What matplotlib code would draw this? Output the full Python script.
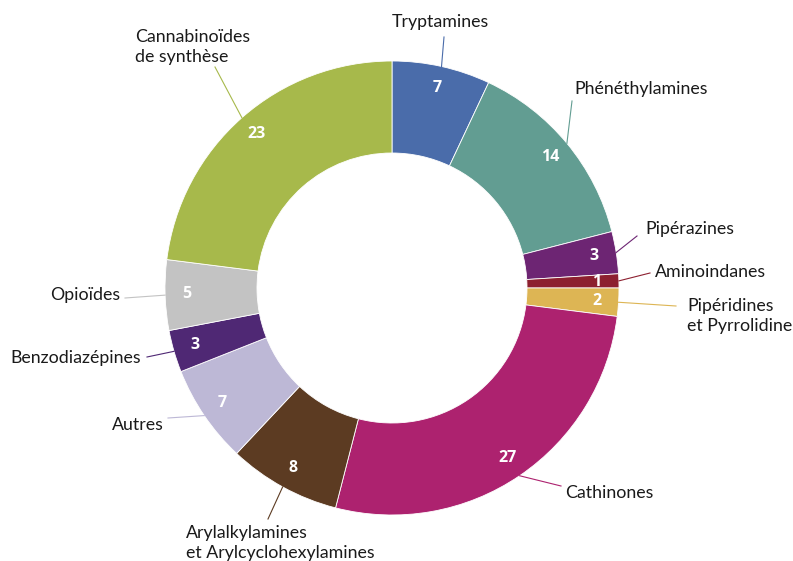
import numpy as np
import matplotlib
matplotlib.use("Agg")
import matplotlib.pyplot as plt

# data
labels = ["Tryptamines", "Phénéthylamines", "Pipérazines", "Aminoindanes",
          "Pipéridines\net Pyrrolidine", "Cathinones",
          "Arylalkylamines\net Arylcyclohexylamines", "Autres",
          "Benzodiazépines", "Opioïdes", "Cannabinoïdes\nde synthèse"]
values = [7, 14, 3, 1, 2, 27, 8, 7, 3, 5, 23]
colors = ["#4a6caa", "#629d92", "#6d2573", "#8d2030", "#ddb554", "#ad226f",
          "#5c3b22", "#bdb8d6", "#4f2874", "#c3c3c3", "#a7b94b"]

# label layout in pixels of the 793x561 image: (line end, text pos, ha)
CX, CY = 392, 288
layout = [
    ((444, 37), (440, 22), "center"),
    ((572, 101), (574, 89), "left"),
    ((637, 236), (645, 229), "left"),
    ((650, 273), (655, 272), "left"),
    ((676, 306), (687, 316), "left"),
    ((561, 486), (565, 493), "left"),
    ((268, 519), (186, 543), "left"),
    ((168, 418), (164, 425), "right"),
    ((147, 357), (141, 358), "right"),
    ((125, 298), (120, 295), "right"),
    ((215, 67), (135, 47), "left"),
]


def px(p):
    return (p[0] - CX, CY - p[1])


R = 227
W = 92

fig = plt.figure(figsize=(7.93, 5.61), dpi=100)
ax = fig.add_axes([0, 0, 1, 1])
wedges, _ = ax.pie(values, colors=colors, radius=R, startangle=90,
                   counterclock=False,
                   wedgeprops=dict(width=W, edgecolor="white", linewidth=0.6))

total = sum(values)
cum = 0
for i, v in enumerate(values):
    mid = 90 - 360 * (cum + v / 2) / total
    cum += v
    a = np.deg2rad(mid)
    ax.text(205 * np.cos(a), 205 * np.sin(a), str(v), color="white",
            fontsize=11.5, fontweight="bold", family="Open Sans",
            ha="center", va="center")
    end, tpos, ha = layout[i]
    start = (R * np.cos(a), R * np.sin(a))
    ax.plot([start[0], px(end)[0]], [start[1], px(end)[1]],
            color=colors[i], lw=0.8)
    ax.text(*px(tpos), labels[i], fontsize=12.8, family="Lato",
            color="#1a1a1a", ha=ha, va="center", linespacing=1.25)

ax.set_xlim(-CX, 793 - CX)
ax.set_ylim(CY - 561, CY)
ax.set_aspect("equal")
ax.axis("off")

fig.savefig("out.png", dpi=100)
